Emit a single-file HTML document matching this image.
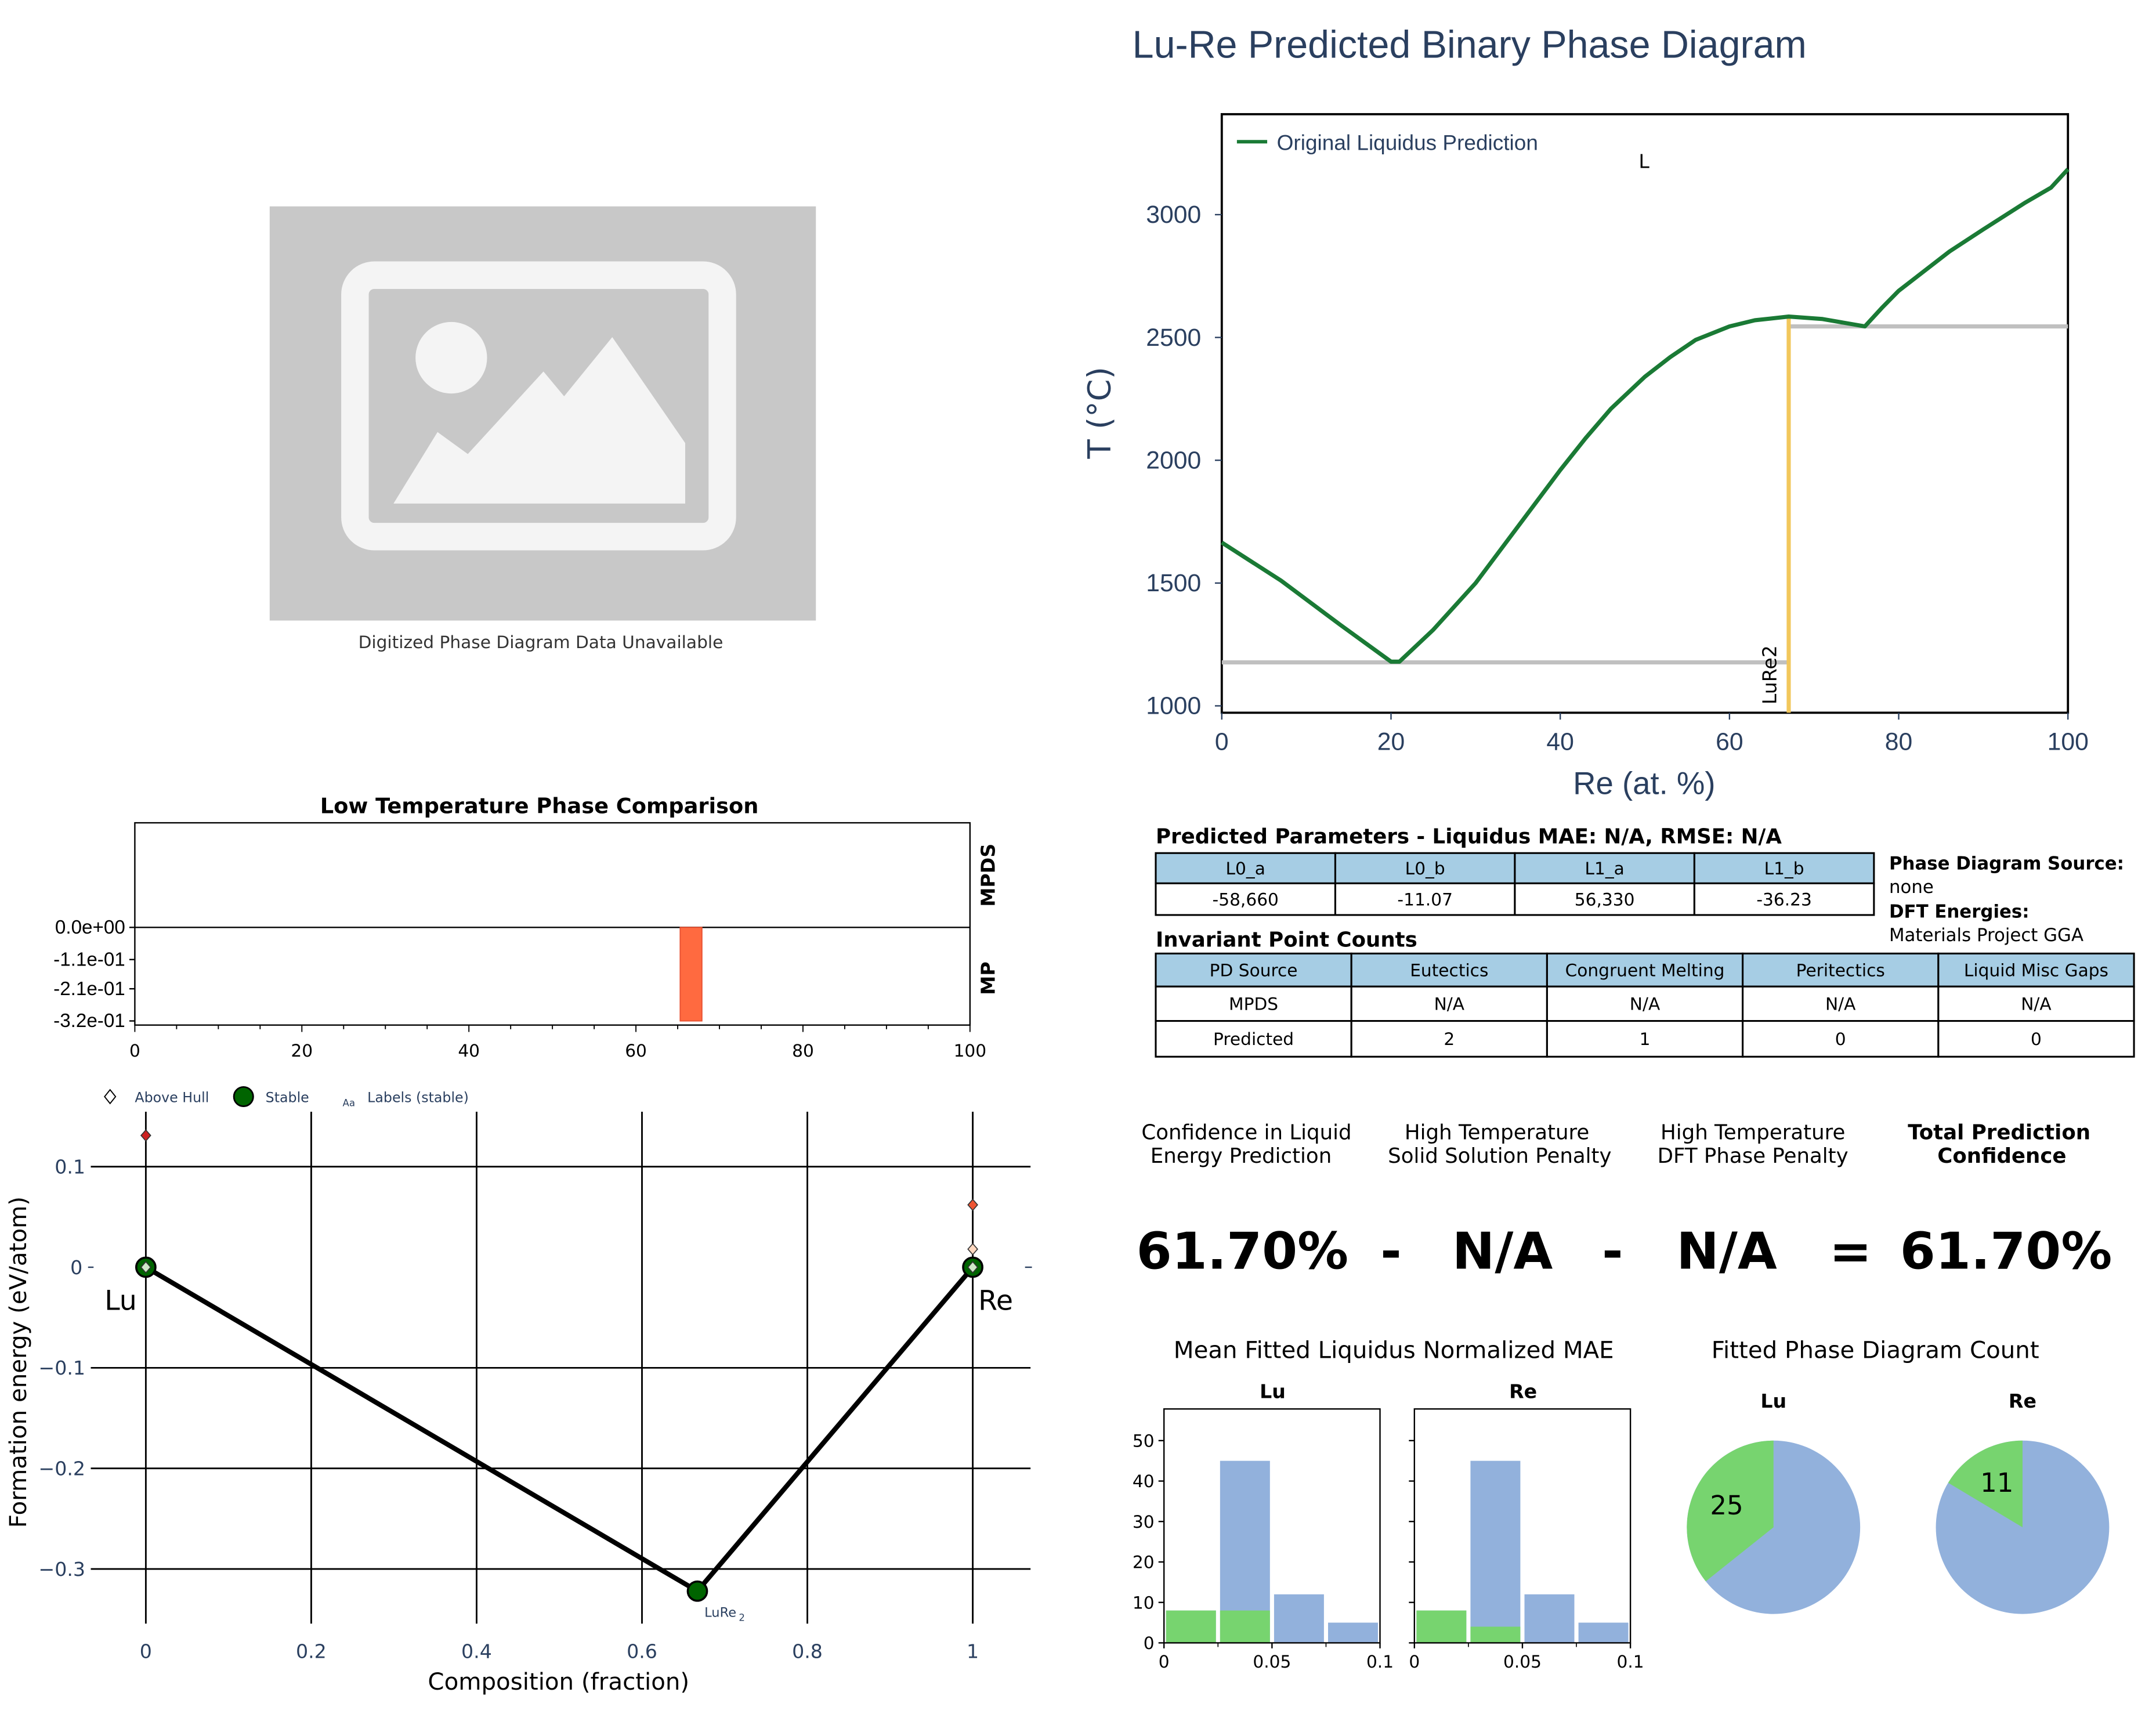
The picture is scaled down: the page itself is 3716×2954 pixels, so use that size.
<!DOCTYPE html>
<html><head><meta charset="utf-8"><style>
html,body{margin:0;padding:0;background:#fff}
svg{display:block;font-family:"DejaVu Sans","Liberation Sans",sans-serif}
</style></head><body>
<svg id="s" xmlns="http://www.w3.org/2000/svg" width="3716" height="2954" viewBox="0 0 1567 1245.7" preserveAspectRatio="none">
<rect width="1567" height="1246" fill="#fff"/>
<g>
<rect x="196" y="150" width="397" height="301" fill="#c8c8c8"/>
<rect x="258" y="200" width="267" height="190" rx="14" fill="none" stroke="#f4f4f4" stroke-width="20"/>
<rect x="276" y="216" width="222" height="150" fill="#c8c8c8"/>
<circle cx="328" cy="260" r="26" fill="#f4f4f4"/>
<polygon points="286,366 318,314 340,330 395,270 410,288 445,245 498,322 498,366" fill="#f4f4f4"/>
<text x="393" y="471" font-size="12.5" text-anchor="middle" fill="#333">Digitized Phase Diagram Data Unavailable</text>
</g>
<text x="823" y="42" font-size="28" fill="#2a3f5f" font-family="Liberation Sans,sans-serif">Lu-Re Predicted Binary Phase Diagram</text>
<g id="pd"></g>
<g id="lt"></g>
<g id="fe"></g>
<g font-size="13" fill="#000">
<text x="840" y="613" font-size="15" font-weight="bold">Predicted Parameters - Liquidus MAE: N/A, RMSE: N/A</text>
<g id="t1"></g>
<text x="1373" y="632" font-weight="bold">Phase Diagram Source:</text>
<text x="1373" y="649">none</text>
<text x="1373" y="667" font-weight="bold">DFT Energies:</text>
<text x="1373" y="684">Materials Project GGA</text>
<text x="840" y="688" font-size="15" font-weight="bold">Invariant Point Counts</text>
<g id="t2"></g>
</g>
<g font-size="15" text-anchor="middle" fill="#000">
<text x="906" y="828">Confidence in Liquid</text><text x="902" y="845">Energy Prediction</text>
<text x="1088" y="828">High Temperature</text><text x="1090" y="845">Solid Solution Penalty</text>
<text x="1274" y="828">High Temperature</text><text x="1274" y="845">DFT Phase Penalty</text>
<text x="1453" y="828" font-weight="bold">Total Prediction</text><text x="1455" y="845" font-weight="bold">Confidence</text>
</g>
<g font-size="37" font-weight="bold" text-anchor="middle" fill="#000">
<text x="903" y="922">61.70%</text><text x="1011" y="922">-</text><text x="1092" y="922">N/A</text>
<text x="1172" y="922">-</text><text x="1255" y="922">N/A</text><text x="1345" y="922">=</text><text x="1458" y="922">61.70%</text>
</g>
<text x="1013" y="987" font-size="17" text-anchor="middle">Mean Fitted Liquidus Normalized MAE</text>
<text x="1363" y="987" font-size="17" text-anchor="middle">Fitted Phase Diagram Count</text>
<g id="hist"></g>
<g id="pies"></g>
</svg>
<script>
const NS='http://www.w3.org/2000/svg';
function mk(p,tag,a,txt){const e=document.createElementNS(NS,tag);for(const k in a)e.setAttribute(k,a[k]);if(txt!==undefined)e.textContent=txt;p.appendChild(e);return e;}
const liqX=[0,7,14,20,21,25,30,35,40,43,46,50,53,56,60,63,67,71,76,78,80,83,86,90,95,98,100];
const liqT=[1665,1510,1330,1180,1180,1310,1500,1730,1960,2090,2210,2340,2420,2490,2545,2570,2585,2575,2545,2620,2690,2770,2850,2940,3050,3110,3185];
const eutT1=1177, eutT2=2545, compX=67, compT=2585;
const pdXTicks=[0,20,40,60,80,100];
const pdYTicks=[1000,1500,2000,2500,3000];
const PX=v=>888+v*(1503-888)/100, PY=t=>513-(t-1000)*(513-156)/2000;
const pd=document.getElementById('pd');
let e=mk(pd,'rect',{x:888,y:83,width:615,height:435,fill:'none',stroke:'#000','stroke-width':1.6});


pdXTicks.forEach(v=>{mk(pd,'line',{x1:PX(v),x2:PX(v),y1:518,y2:523,stroke:'#2a3f5f'});
 e=mk(pd,'text',{x:PX(v),y:545,'font-size':18,'text-anchor':'middle',fill:'#2a3f5f','font-family':'Liberation Sans,sans-serif'},v);
 
 });
pdYTicks.forEach(v=>{mk(pd,'line',{x1:883,x2:888,y1:PY(v),y2:PY(v),stroke:'#2a3f5f'});
 e=mk(pd,'text',{x:873,y:PY(v)+6,'font-size':18,'text-anchor':'end',fill:'#2a3f5f','font-family':'Liberation Sans,sans-serif'},v);
 
 });
e=mk(pd,'text',{x:1195,y:577,'font-size':23,'text-anchor':'middle',fill:'#2a3f5f','font-family':'Liberation Sans,sans-serif'},'Re (at. %)');


e=mk(pd,'text',{x:0,y:0,'font-size':23,'text-anchor':'middle',fill:'#2a3f5f',transform:'translate(807,300) rotate(-90)'},'T (°C)');


e=mk(pd,'line',{x1:PX(0),x2:PX(compX),y1:PY(eutT1),y2:PY(eutT1),stroke:'#c0c0c0','stroke-width':3});


e=mk(pd,'line',{x1:PX(compX),x2:PX(100),y1:PY(eutT2),y2:PY(eutT2),stroke:'#c0c0c0','stroke-width':3});


e=mk(pd,'line',{x1:PX(compX),x2:PX(compX),y1:518,y2:PY(compT),stroke:'#f2c75c','stroke-width':3});


e=mk(pd,'polyline',{points:liqX.map((x,i)=>PX(x)+','+PY(liqT[i])).join(' '),fill:'none',stroke:'#1a7a35','stroke-width':3,'stroke-linejoin':'round'});


e=mk(pd,'text',{x:0,y:0,'font-size':14,transform:'translate(1291,512) rotate(-90)'},'LuRe2');


e=mk(pd,'text',{x:1191,y:122,'font-size':14},'L');


mk(pd,'line',{x1:899,x2:921,y1:103,y2:103,stroke:'#1a7a35','stroke-width':2.5});
e=mk(pd,'text',{x:928,y:109,'font-size':15.6,fill:'#2a3f5f','font-family':'Liberation Sans,sans-serif'},'Original Liquidus Prediction');



const ltYTicks=[0,-0.11,-0.21,-0.32];
const ltYLabels=['0.0e+00','-1.1e-01','-2.1e-01','-3.2e-01'];
const ltXTicks=[0,20,40,60,80,100];
const ltBarX0=[65.3], ltBarX1=[67.9], ltBarE=[-0.32];
const LX=v=>98+v*(705-98)/100, LY=v=>674+(-v)*(742-674)/0.32;
const lt=document.getElementById('lt');
e=mk(lt,'text',{x:392,y:591,'font-size':15.5,'font-weight':'bold','text-anchor':'middle'},'Low Temperature Phase Comparison');


e=mk(lt,'rect',{x:98,y:598,width:607,height:147,fill:'none',stroke:'#000','stroke-width':1});


mk(lt,'line',{x1:98,x2:705,y1:LY(0),y2:LY(0),stroke:'#000','stroke-width':1});
ltBarX0.forEach((x0,i)=>{e=mk(lt,'rect',{x:LX(x0),y:LY(0),width:LX(ltBarX1[i])-LX(x0),height:LY(ltBarE[i])-LY(0),fill:'#ff6a40',stroke:'#e85030','stroke-width':0.8});
 
 });
ltYTicks.forEach((v,i)=>{mk(lt,'line',{x1:94,x2:98,y1:LY(v),y2:LY(v),stroke:'#000'});
 e=mk(lt,'text',{x:91,y:LY(v)+4.5,'font-size':14,'text-anchor':'end','font-family':'Liberation Sans,sans-serif'},ltYLabels[i]);
 
 });
for(let v=0;v<=100;v+=5){mk(lt,'line',{x1:LX(v),x2:LX(v),y1:745,y2:v%20==0?750:748,stroke:'#000','stroke-width':0.8});}
ltXTicks.forEach(v=>{e=mk(lt,'text',{x:LX(v),y:768,'font-size':12.5,'text-anchor':'middle'},v);
 
 });
e=mk(lt,'text',{x:0,y:0,'font-size':14,'font-weight':'bold','text-anchor':'middle',transform:'translate(723,636) rotate(-90)'},'MPDS');


e=mk(lt,'text',{x:0,y:0,'font-size':14,'font-weight':'bold','text-anchor':'middle',transform:'translate(723,711) rotate(-90)'},'MP');



const hullX=[0,0.667,1], hullE=[0,-0.322,0];
const aboveX=[0,1,1,0,1], aboveE=[0.131,0.062,0.018,0,0];
const aboveColors=['#cc2222','#ee5533','#ffd8c0','#cfe8c8','#cfe8c8'];
const feXTicks=[0,0.2,0.4,0.6,0.8,1], feXLabels=['0','0.2','0.4','0.6','0.8','1'];
const feYTicks=[0.1,0,-0.1,-0.2,-0.3], feYLabels=['0.1','0','−0.1','−0.2','−0.3'];
const FX=v=>106+v*(707-106), FY=v=>921-v*731;
const fe=document.getElementById('fe');
feYTicks.forEach((v,i)=>{ if(v!==0){e=mk(fe,'line',{x1:66,x2:749,y1:FY(v),y2:FY(v),stroke:'#000','stroke-width':1.2});
 
 }
 else{mk(fe,'line',{x1:64,x2:68,y1:FY(v),y2:FY(v),stroke:'#2a3f5f'});mk(fe,'line',{x1:745,x2:750,y1:FY(v),y2:FY(v),stroke:'#2a3f5f'});}
 e=mk(fe,'text',{x:v===0?60:62,y:FY(v)+5,'font-size':14,'text-anchor':'end',fill:'#2a3f5f'},feYLabels[i]);
 
 });
feXTicks.forEach((v,i)=>{e=mk(fe,'line',{x1:FX(v),x2:FX(v),y1:808,y2:1180,stroke:'#000','stroke-width':1.2});
 
 
 e=mk(fe,'text',{x:FX(v),y:1205,'font-size':14,'text-anchor':'middle',fill:'#2a3f5f'},feXLabels[i]);
 
 });
e=mk(fe,'polyline',{points:hullX.map((x,i)=>FX(x)+','+FY(hullE[i])).join(' '),fill:'none',stroke:'#000','stroke-width':3.5});


hullX.forEach((x,i)=>{e=mk(fe,'circle',{cx:FX(x),cy:FY(hullE[i]),r:7,fill:'#006400',stroke:'#000','stroke-width':1.5});
 
 });
aboveX.forEach((x,i)=>{const cx=FX(x),cy=FY(aboveE[i]);
 e=mk(fe,'polygon',{points:`${cx},${cy-4} ${cx+3.5},${cy} ${cx},${cy+4} ${cx-3.5},${cy}`,fill:aboveColors[i],stroke:'#333','stroke-width':0.7});
 
 });
e=mk(fe,'text',{x:76,y:952,'font-size':20},'Lu');


e=mk(fe,'text',{x:711,y:952,'font-size':20},'Re');


e=mk(fe,'text',{x:512,y:1175,'font-size':9.5,fill:'#2a3f5f'},'LuRe');


mk(fe,'text',{x:537,y:1178,'font-size':7,fill:'#2a3f5f'},'2');
mk(fe,'polygon',{points:'80,792 84,797 80,802 76,797',fill:'#fff',stroke:'#000','stroke-width':0.8});
e=mk(fe,'text',{x:98,y:801,'font-size':10,fill:'#2a3f5f'},'Above Hull');


mk(fe,'circle',{cx:177,cy:797,r:7,fill:'#006400',stroke:'#000','stroke-width':1.2});
e=mk(fe,'text',{x:193,y:801,'font-size':10,fill:'#2a3f5f'},'Stable');


mk(fe,'text',{x:249,y:804,'font-size':7,fill:'#2a3f5f'},'Aa');
e=mk(fe,'text',{x:267,y:801,'font-size':10,fill:'#2a3f5f'},'Labels (stable)');


e=mk(fe,'text',{x:406,y:1228,'font-size':17,'text-anchor':'middle'},'Composition (fraction)');


e=mk(fe,'text',{x:0,y:0,'font-size':17,'text-anchor':'middle',transform:'translate(19,990) rotate(-90)'},'Formation energy (eV/atom)');



const t1Head=['L0_a','L0_b','L1_a','L1_b'], t1Vals=['-58,660','-11.07','56,330','-36.23'];
const t2Head=['PD Source','Eutectics','Congruent Melting','Peritectics','Liquid Misc Gaps'];
const t2Rows=[['MPDS','N/A','N/A','N/A','N/A'],['Predicted','2','1','0','0']];
function table(g,x0,x1,rowsY,rows,name){const n=rows[0].length,w=(x1-x0)/n;
 rows.forEach((r,ri)=>{r.forEach((c,ci)=>{e=mk(g,'rect',{x:x0+ci*w,y:rowsY[ri],width:w,height:rowsY[ri+1]-rowsY[ri],fill:ri==0?'#a6cde4':'#fff',stroke:'#000','stroke-width':1.3});
  
  
  mk(g,'text',{x:x0+ci*w+w/2,y:(rowsY[ri]+rowsY[ri+1])/2+4.5,'font-size':12.5,'text-anchor':'middle'},c);});});}
table(document.getElementById('t1'),840,1362,[620,642,665],[t1Head,t1Vals],'parameters-table');
table(document.getElementById('t2'),840,1551,[693,717,742,768],[t2Head,...t2Rows],'invariant-table');

const binEdges=[0,0.025,0.05,0.075,0.1];
const luBlue=[8,45,12,5], luGreen=[8,8,0,0];
const reBlue=[8,45,12,5], reGreen=[8,4,0,0];
const histYTicks=[0,10,20,30,40,50], histXTicks=[0,0.05,0.1], histXLabels=['0','0.05','0.1'];
const hg=document.getElementById('hist');
function hist(x0,title,blue,green,showY){const HX=v=>x0+v*1570, HY=v=>1194-v*2.94;
 e=mk(hg,'text',{x:x0+79,y:1016,'font-size':14,'font-weight':'bold','text-anchor':'middle'},title);
 
 
 blue.forEach((v,i)=>{const a=HX(binEdges[i])+1.5,b=HX(binEdges[i+1])-1.5;
  e=mk(hg,'rect',{x:a,y:HY(v),width:b-a,height:HY(0)-HY(v),fill:'#92b1dc'});
  
  
  if(green[i]>0){e=mk(hg,'rect',{x:a,y:HY(green[i]),width:b-a,height:HY(0)-HY(green[i]),fill:'#77d46f'});
  
  }});
 e=mk(hg,'rect',{x:x0,y:1024,width:157,height:170,fill:'none',stroke:'#000','stroke-width':1});
 
 
 histYTicks.forEach(v=>{mk(hg,'line',{x1:x0-4,x2:x0,y1:HY(v),y2:HY(v),stroke:'#000'});
  if(showY)mk(hg,'text',{x:x0-7,y:HY(v)+4.5,'font-size':12.5,'text-anchor':'end'},v);});
 histXTicks.forEach((v,i)=>{mk(hg,'line',{x1:HX(v),x2:HX(v),y1:1194,y2:1198,stroke:'#000'});
  mk(hg,'text',{x:HX(v),y:1212,'font-size':12.5,'text-anchor':'middle'},histXLabels[i]);});
 [0.025,0.075].forEach(v=>mk(hg,'line',{x1:HX(v),x2:HX(v),y1:1194,y2:1197,stroke:'#000','stroke-width':0.7}));}
hist(846,'Lu',luBlue,luGreen,true);
hist(1028,'Re',reBlue,reGreen,false);

const pieNames=['Lu','Re'], pieFitted=[25,11], pieOther=[45,56];
const pieCX=[1289,1470];
const pg=document.getElementById('pies');
pieNames.forEach((nm,i)=>{const cx=pieCX[i],cy=1110,r=63,tot=pieFitted[i]+pieOther[i];
 const f=pieFitted[i]/tot, a0=Math.PI/2, a1=a0+f*2*Math.PI;
 const p=a=>[cx+r*Math.cos(a),cy-r*Math.sin(a)];
 const [gx0,gy0]=p(a0),[gx1,gy1]=p(a1);
 e=mk(pg,'circle',{cx:cx,cy:cy,r:r,fill:'#92b1dc'});
 
 
 e=mk(pg,'path',{d:`M${cx},${cy} L${gx0},${gy0} A${r},${r} 0 ${f>0.5?1:0} 0 ${gx1},${gy1} Z`,fill:'#77d46f'});
 
 
 const am=(a0+a1)/2;
 e=mk(pg,'text',{x:cx+r*0.6*Math.cos(am),y:cy-r*0.6*Math.sin(am)+7,'font-size':19,'text-anchor':'middle'},pieFitted[i]);
 
 
 e=mk(pg,'text',{x:cx,y:1023,'font-size':14,'font-weight':'bold','text-anchor':'middle'},nm);
 
 });
</script>
</body></html>
